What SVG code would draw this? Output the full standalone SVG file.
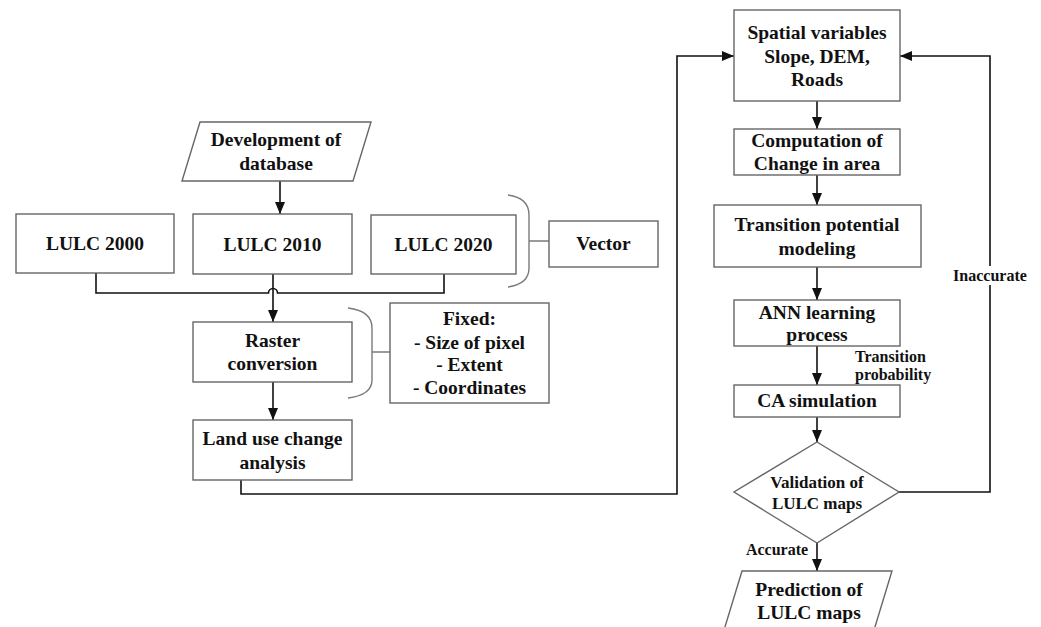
<svg xmlns="http://www.w3.org/2000/svg" width="1041" height="627" viewBox="0 0 1041 627">
<style>
.box{fill:#fff;stroke:#666;stroke-width:1.4}
.brace{fill:none;stroke:#7a7a7a;stroke-width:1.4}
.t{font-family:"Liberation Serif","Times New Roman",serif;font-weight:bold;font-size:19.5px;fill:#111;text-anchor:middle}
.d{font-size:17px}
.s{font-size:16px}
.c{fill:none;stroke:#111;stroke-width:1.6}
</style>
<defs>
<marker id="ah" viewBox="0 0 12 10" refX="12" refY="5" markerWidth="12" markerHeight="10" markerUnits="userSpaceOnUse" orient="auto">
<path d="M0 0 L12 5 L0 10 Z" fill="#111"/>
</marker>
</defs>
<rect width="1041" height="627" fill="#fff"/>

<g id="connectors">
<path class="c" d="M280 181 V214" marker-end="url(#ah)"/>
<path class="c" d="M96 273 V293 H268.5 A4.5 4.5 0 0 1 277.5 293 H444 V274"/>
<path class="c" d="M273 274 V322" marker-end="url(#ah)"/>
<path class="c" d="M273 382 V420" marker-end="url(#ah)"/>
<path class="c" d="M241 480 V494 H677 V56 H734" marker-end="url(#ah)"/>
<path class="c" d="M817 101 V129" marker-end="url(#ah)"/>
<path class="c" d="M817 175 V205" marker-end="url(#ah)"/>
<path class="c" d="M817 267 V300" marker-end="url(#ah)"/>
<path class="c" d="M817 346 V385" marker-end="url(#ah)"/>
<path class="c" d="M817 417 V442" marker-end="url(#ah)"/>
<path class="c" d="M899 492 H990 V56 H900" marker-end="url(#ah)"/>
<path class="c" d="M817 543 V571" marker-end="url(#ah)"/>
<path class="brace" d="M508 195 Q529 198 529 215 V268 Q529 284 508 287 M529 241 H549"/>
<path class="brace" d="M348 308 Q372 311 372 328 V380 Q372 395 348 398 M372 352 H390"/>
<rect x="950" y="266" width="80" height="19" fill="#fff"/>
<text class="t s" x="990" y="280.5">Inaccurate</text>
<text class="t s" x="855" y="361.5" style="text-anchor:start">Transition</text>
<text class="t s" x="855" y="379.5" style="text-anchor:start">probability</text>
<text class="t s" x="777" y="554.5">Accurate</text>
</g>

<g id="dev">
<polygon class="box" points="200,122 371,122 353,181 182,181"/>
<text class="t" x="276" y="145.5">Development of</text>
<text class="t" x="276" y="169.5">database</text>
</g>
<g id="lulc2000">
<rect class="box" x="16" y="214" width="158" height="59"/>
<text class="t" x="95" y="250">LULC 2000</text>
</g>
<g id="lulc2010">
<rect class="box" x="193" y="214" width="159" height="60"/>
<text class="t" x="272.5" y="250.5">LULC 2010</text>
</g>
<g id="lulc2020">
<rect class="box" x="371" y="215" width="145" height="59"/>
<text class="t" x="443.5" y="250.5">LULC 2020</text>
</g>
<g id="vector">
<rect class="box" x="549" y="221" width="109" height="46"/>
<text class="t" x="603.5" y="250">Vector</text>
</g>
<g id="raster">
<rect class="box" x="193" y="322" width="159" height="60"/>
<text class="t" x="272.5" y="347">Raster</text>
<text class="t" x="272.5" y="370">conversion</text>
</g>
<g id="fixed">
<rect class="box" x="390" y="303" width="159" height="100"/>
<text class="t" x="469.5" y="324.5">Fixed:</text>
<text class="t" x="469.5" y="348.5">- Size of pixel</text>
<text class="t" x="469.5" y="370.5">- Extent</text>
<text class="t" x="469.5" y="393.5">- Coordinates</text>
</g>
<g id="landuse">
<rect class="box" x="193" y="420" width="159" height="60"/>
<text class="t" x="272.5" y="444.5">Land use change</text>
<text class="t" x="272.5" y="468.5">analysis</text>
</g>
<g id="spatial">
<rect class="box" x="734" y="10" width="166" height="91"/>
<text class="t" x="817" y="38.5">Spatial variables</text>
<text class="t" x="817" y="62.5">Slope, DEM,</text>
<text class="t" x="817" y="85.5">Roads</text>
</g>
<g id="computation">
<rect class="box" x="734" y="129" width="166" height="46"/>
<text class="t" x="817" y="146.5">Computation of</text>
<text class="t" x="817" y="169.5">Change in area</text>
</g>
<g id="transition">
<rect class="box" x="714" y="205" width="207" height="62"/>
<text class="t" x="817" y="230.5">Transition potential</text>
<text class="t" x="817" y="254.5">modeling</text>
</g>
<g id="ann">
<rect class="box" x="734" y="300" width="166" height="46"/>
<text class="t" x="817" y="318.5">ANN learning</text>
<text class="t" x="817" y="340.5">process</text>
</g>
<g id="ca">
<rect class="box" x="734" y="385" width="166" height="32"/>
<text class="t" x="817" y="407">CA simulation</text>
</g>
<g id="validation">
<polygon class="box" points="817,442 899,492 817,543 734,492"/>
<text class="t d" x="817" y="487.5">Validation of</text>
<text class="t d" x="817" y="508.5">LULC maps</text>
</g>
<g id="prediction">
<polygon class="box" points="742,571 892,571 871,640 721,640"/>
<text class="t" x="809" y="595.5">Prediction of</text>
<text class="t" x="809" y="618.5">LULC maps</text>
</g>
</svg>
